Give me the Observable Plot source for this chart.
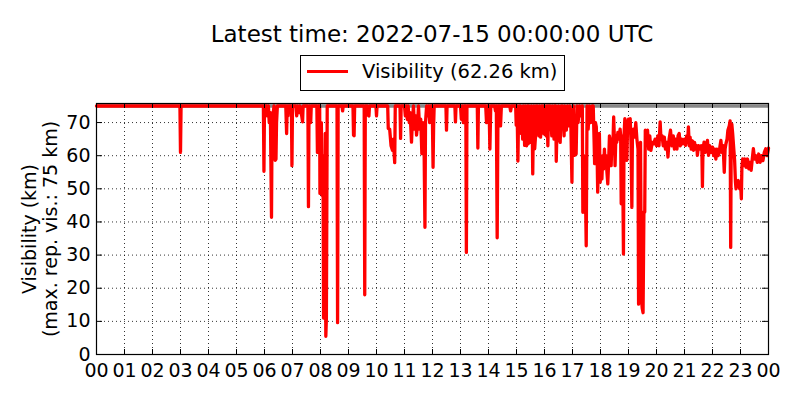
<!DOCTYPE html>
<html><head><meta charset="utf-8">
<script src="https://cdn.jsdelivr.net/npm/d3@7"></script>
<script src="https://cdn.jsdelivr.net/npm/@observablehq/plot@0.6"></script>
<style>
body{margin:0;background:#fff;font-family:"DejaVu Sans",sans-serif;color:#000;}
#header{position:relative;width:800px;height:100px;}
#title{position:absolute;left:96px;width:672px;top:23px;text-align:center;font-size:23px;line-height:23px;white-space:nowrap;}
#legend{position:absolute;left:300px;top:55px;width:265px;height:36px;border:1px solid #000;box-sizing:border-box;background:#fff;}
#legend .swatch{position:absolute;left:6px;top:14px;width:41px;height:3px;background:#ff0000;}
#legend .label{position:absolute;left:61px;top:6px;font-size:19.5px;line-height:19.5px;white-space:nowrap;}
</style></head>
<body>
<div id="header">
  <div id="title"></div>
  <div id="legend"><div class="swatch"></div><div class="label"></div></div>
</div>
<div id="chart"></div>
<script>
const titleText = "Latest time: 2022-07-15 00:00:00 UTC";
const seriesName = "Visibility";
const latestValue = "62.26";
const yLabelLines = ["Visibility (km)", "(max. rep. vis.: 75 km)"];
const maxRepVis = 75;
const hourTicks = [0,1,2,3,4,5,6,7,8,9,10,11,12,13,14,15,16,17,18,19,20,21,22,23,24];
const hourLabels = ["00","01","02","03","04","05","06","07","08","09","10","11","12","13","14","15","16","17","18","19","20","21","22","23","00"];
const visTicks = [0,10,20,30,40,50,60,70];

// [hour of day, visibility km]
const observations = [
[0,75],[2.98,75],[3.0,61],[3.02,75],
[5.96,75],[5.98,55.3],[6.0,75],
[6.08,75],[6.1,72],[6.14,75],[6.17,70],[6.21,73],[6.25,41.4],[6.27,70],[6.3,72],[6.34,75],[6.38,58.6],[6.41,59],[6.43,70],[6.46,75],
[6.76,75],[6.79,66.7],[6.81,75],[6.84,72],[6.86,75],[6.96,75],[6.98,57],[7.0,75],
[7.12,75],[7.15,72],[7.18,75],[7.22,73],[7.26,75],[7.33,72],[7.36,70.2],[7.38,75],
[7.55,75],[7.57,44.6],[7.59,75],[7.63,75],[7.65,70],[7.67,75],
[7.87,75],[7.89,61],[7.91,75],[7.97,75],[7.98,48.6],[8.01,50],[8.03,70],[8.06,48],[8.09,60],[8.11,11],[8.13,40],[8.15,11],[8.17,66.7],[8.19,5.5],[8.21,11],[8.24,75],
[8.59,75],[8.61,9.6],[8.63,75],
[8.77,75],[8.79,73.5],[8.81,75],
[9.16,75],[9.18,66.2],[9.2,66],[9.22,75],
[9.56,75],[9.58,18],[9.6,75],
[9.68,75],[9.7,72.2],[9.73,72],[9.75,75],
[9.98,75],[10.0,72],[10.02,75],
[10.4,75],[10.42,68.2],[10.47,68],[10.52,63],[10.57,61.6],[10.6,65],[10.65,57.9],[10.67,75],
[10.84,75],[10.86,65.2],[10.88,75],
[11.0,75],[11.03,72],[11.06,75],[11.1,71],[11.13,75],[11.17,70],[11.2,73],[11.25,64.1],[11.28,70],[11.32,75],[11.36,68],[11.4,72],[11.43,66.2],[11.47,70],[11.5,75],[11.54,68],[11.58,71],[11.62,60.6],[11.66,70],[11.7,62],[11.73,38.4],[11.75,70],[11.79,75],[11.83,72],[11.87,75],[11.9,70],[11.94,75],[11.99,75],[12.02,56.5],[12.04,69],[12.06,75],
[12.48,75],[12.5,67.7],[12.52,75],
[12.8,75],[12.82,70.2],[12.84,75],
[13.0,75],[13.03,71],[13.07,75],[13.1,70],[13.13,75],[13.19,75],[13.21,30.8],[13.23,75],
[13.6,75],[13.62,62.3],[13.64,75],
[13.9,75],[13.93,70],[13.96,75],[14.02,75],[14.05,62],[14.08,75],
[14.22,75],[14.25,73.5],[14.28,75],[14.31,35.2],[14.34,75],[14.4,75],[14.43,69],[14.46,75],
[14.76,75],[14.79,73.5],[14.82,75],
[14.97,75],[14.99,69.2],[15.02,75],[15.05,58.4],[15.07,70],[15.1,75],[15.12,68],[15.14,75],[15.17,66.7],[15.2,72],[15.22,65],[15.24,75],[15.27,70],[15.29,63.1],[15.31,75],[15.33,68],[15.36,63],[15.39,75],[15.42,63.6],[15.44,75],[15.46,70],[15.5,64],[15.53,75],[15.56,70],[15.58,54.5],[15.6,68],[15.62,75],[15.65,62.1],[15.68,66],[15.7,75],[15.72,68],[15.74,75],[15.78,70],[15.8,66],[15.82,75],[15.86,65.6],[15.88,72],[15.9,75],[15.92,68],[15.94,75],[15.98,66.6],[16.0,75],[16.02,70],[16.06,66],[16.09,75],[16.12,63],[16.15,75],[16.18,68],[16.2,75],[16.24,70],[16.26,66],[16.28,75],[16.32,71],[16.34,65],[16.36,75],[16.4,75],[16.42,58.3],[16.45,70],[16.48,64.6],[16.5,75],[16.52,68],[16.56,64],[16.6,75],[16.62,70],[16.64,75],[16.68,70],[16.7,66],[16.72,75],[16.75,70],[16.78,67.7],[16.82,75],[16.86,69],[16.9,75],[16.94,70],[16.98,52],[17.0,70],[17.03,75],[17.07,60.1],[17.1,65],[17.13,60.5],[17.16,75],[17.2,70],[17.25,75],[17.3,72],[17.35,75],[17.37,42.9],[17.4,60],[17.43,43],[17.47,45],[17.49,32.8],[17.52,75],[17.56,68],[17.6,75],[17.65,70],[17.7,75],[17.74,75],[17.77,65],[17.79,57.6],[17.82,70],[17.85,68.7],[17.88,60],[17.9,49],[17.93,60],[17.96,66.7],[17.99,52],
[18.02,58],[18.05,53],[18.08,60],[18.11,56],[18.14,62],[18.17,57],[18.2,60],[18.23,55],[18.26,51.5],[18.29,58],[18.32,66],[18.35,63.6],[18.38,57],[18.41,65],[18.44,62],[18.47,71.7],[18.5,64],[18.52,57],[18.55,66],[18.58,64],[18.62,67],[18.66,65],[18.7,68],[18.72,66],[18.74,45.5],[18.77,66],[18.8,50],[18.82,30.3],[18.84,66],[18.87,71.2],[18.9,68],[18.94,58.6],[18.97,70],[19.0,71],[19.03,67],[19.06,71.2],[19.09,64],[19.12,44.4],[19.14,66],[19.18,68],[19.22,65.6],[19.26,70],[19.3,65],[19.34,62],[19.36,15.2],[19.38,16],[19.4,62.6],[19.43,64],[19.46,17.2],[19.49,14],[19.52,12.6],[19.55,43],[19.58,43],[19.6,67.7],[19.64,64],[19.68,67.7],[19.72,62],[19.76,66],[19.8,61.6],[19.85,64],[19.9,63.6],[19.95,65],[20.0,63],[20.05,66],[20.09,63],[20.13,70.2],[20.16,65],[20.2,66],[20.24,63],[20.28,65.6],[20.32,62],[20.37,64],[20.41,59.6],[20.45,65],[20.5,67.7],[20.55,63],[20.6,66],[20.64,62],[20.68,65],[20.73,62],[20.77,66],[20.81,66.7],[20.85,63],[20.9,65],[20.94,63.6],
[21.0,65],[21.04,63.1],[21.08,66],[21.11,64],[21.14,68.7],[21.17,63],[21.2,65.6],[21.24,62],[21.28,64.5],[21.32,61.6],[21.36,64],[21.4,62],[21.44,63],[21.46,60.1],[21.5,63],[21.55,62],[21.6,63],[21.62,62],[21.64,50.7],[21.66,62],[21.7,64.1],[21.74,61],[21.78,63],[21.82,64.6],[21.86,60.1],[21.9,63],[21.95,61],[22.0,62.6],[22.04,60],[22.08,62],[22.12,59],[22.16,62],[22.2,60],[22.24,61],[22.27,63],[22.3,64.6],[22.34,61],[22.38,63],[22.42,55],[22.45,62],[22.48,63.6],[22.52,65],[22.55,67.7],[22.6,69],[22.63,70.5],[22.65,32.3],[22.67,68],[22.69,69.5],[22.72,66.7],[22.76,62],[22.79,58.6],[22.82,52],[22.84,50],[22.88,52],[22.92,52.5],[22.97,50],[23.0,52],[23.03,47],[23.05,56.6],[23.08,59],[23.12,57],[23.16,59],[23.2,56.5],[23.25,59],[23.3,56],[23.34,58],[23.38,55.6],[23.42,59],[23.46,62.1],[23.5,59],[23.55,60],[23.6,58],[23.65,60.5],[23.7,58],[23.75,60],[23.8,58.5],[23.85,61],[23.9,62.1],[23.95,60],[24.0,62.26]
];

document.getElementById("title").textContent = titleText;
document.querySelector("#legend .label").textContent = `${seriesName} (${latestValue} km)`;

const plot = Plot.plot({
  width: 800, height: 300,
  marginTop: 3, marginBottom: 46, marginLeft: 96, marginRight: 32,
  style: {fontFamily: "DejaVu Sans", fontSize: "19px", color: "#000", background: "#fff", overflow: "visible"},
  x: {domain: [0, 24]},
  y: {domain: [0, 75.75]},
  marks: [
    Plot.gridX(hourTicks, {stroke: "#000", strokeOpacity: 1, strokeWidth: 0.8, strokeDasharray: "1,3"}),
    Plot.gridY(visTicks, {stroke: "#000", strokeOpacity: 1, strokeWidth: 0.8, strokeDasharray: "1,3"}),
    Plot.ruleY([maxRepVis], {stroke: "#888", strokeWidth: 3.4}),
    Plot.line(observations, {x: d => d[0], y: d => d[1], stroke: "#ff0000", strokeWidth: 3.3, strokeLinejoin: "round"}),
    Plot.tickX(hourTicks, {x: d => d, insetTop: 246, stroke: "#000"}),
    Plot.tickX(hourTicks, {x: d => d, insetBottom: 246, stroke: "#000"}),
    Plot.tickY(visTicks, {y: d => d, insetRight: 666, stroke: "#000"}),
    Plot.tickY(visTicks, {y: d => d, insetLeft: 666, stroke: "#000"}),
    Plot.frame({stroke: "#000", strokeWidth: 1.2}),
    Plot.axisX(hourTicks, {tickSize: 0, tickPadding: 9, tickFormat: d => hourLabels[d], fontSize: 19, label: null}),
    Plot.axisY(visTicks, {tickSize: 0, tickPadding: 6, fontSize: 19, label: null}),
    Plot.text([yLabelLines[0]], {frameAnchor: "left", rotate: -90, dx: -67, textAnchor: "middle", lineAnchor: "middle", text: d => d, fontSize: 19, fill: "#000"}),
    Plot.text([yLabelLines[1]], {frameAnchor: "left", rotate: -90, dx: -46, textAnchor: "middle", lineAnchor: "middle", text: d => d, fontSize: 19, fill: "#000"})
  ]
});
document.getElementById("chart").appendChild(plot);
</script>
</body></html>
